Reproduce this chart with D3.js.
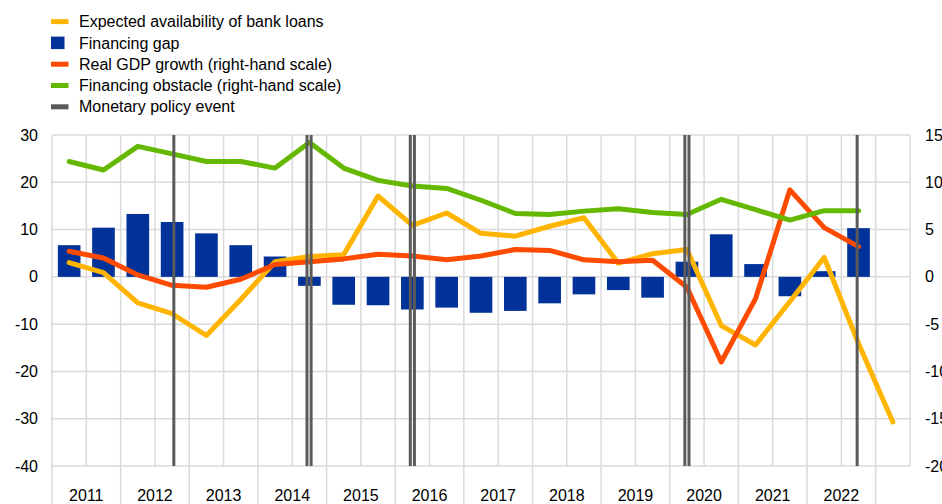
<!DOCTYPE html>
<html>
<head>
<meta charset="utf-8">
<script src="https://cdn.jsdelivr.net/npm/d3@7"></script>
<style>
  body { margin: 0; background: #fff; }
  svg { display: block; font-family: "Liberation Sans", Arial, sans-serif; }
</style>
</head>
<body>
<div id="chart"></div>
<script>
// half-year survey waves, 2011H1 .. 2023H1
var periods = ["2011H1","2011H2","2012H1","2012H2","2013H1","2013H2","2014H1","2014H2",
  "2015H1","2015H2","2016H1","2016H2","2017H1","2017H2","2018H1","2018H2",
  "2019H1","2019H2","2020H1","2020H2","2021H1","2021H2","2022H1","2022H2","2023H1"];
var years = ["2011","2012","2013","2014","2015","2016","2017","2018","2019","2020","2021","2022"];

var financingGap = [6.7, 10.4, 13.3, 11.6, 9.2, 6.7, 4.3, -1.9, -5.9, -6.0, -6.9, -6.5, -7.6,
  -7.2, -5.6, -3.7, -2.8, -4.4, 3.2, 9.0, 2.7, -4.1, 1.2, 10.3, null];
var bankLoans = [3.0, 0.9, -5.5, -7.8, -12.4, -4.8, 3.2, 4.3, 4.7, 17.1, 10.9, 13.5, 9.2,
  8.6, 10.7, 12.5, 2.9, 4.9, 5.8, -10.3, -14.4, -5.2, 4.1, -14.1, -30.7];
var gdpGrowth = [2.7, 2.0, 0.2, -0.9, -1.1, -0.25, 1.3, 1.6, 1.9, 2.4, 2.2, 1.8, 2.2,
  2.9, 2.8, 1.8, 1.6, 1.75, -1.1, -9.0, -2.3, 9.2, 5.2, 3.2, null];
var financingObstacle = [12.2, 11.3, 13.8, 13.0, 12.2, 12.2, 11.5, 14.2, 11.5, 10.2, 9.6, 9.35, 8.1,
  6.7, 6.6, 6.95, 7.2, 6.8, 6.6, 8.2, 7.1, 6.0, 7.0, 7.0, null];
// monetary policy events, in period-index units
var policyEvents = [3.05, 6.93, 7.05, 9.94, 10.06, 17.94, 18.06, 22.96];

var leftTicks = [30, 20, 10, 0, -10, -20, -30, -40];
var rightTicks = [15, 10, 5, 0, -5, -10, -15, -20];

var legendItems = [
  {label: "Expected availability of bank loans", color: "#ffb400", type: "line"},
  {label: "Financing gap", color: "#003299", type: "bar"},
  {label: "Real GDP growth (right-hand scale)", color: "#ff4b00", type: "line"},
  {label: "Financing obstacle (right-hand scale)", color: "#65b800", type: "line"},
  {label: "Monetary policy event", color: "#5a5a5a", type: "line"}
];

var W = 942, H = 504;
var margin = {top: 135, left: 52, right: 32, bottom: 38};
var x0 = margin.left, x1 = W - margin.right, yTop = margin.top, yBot = H - margin.bottom;
var grid = "#dadada";

var svg = d3.select("#chart").append("svg").attr("width", W).attr("height", H);

var x = d3.scaleLinear().domain([-0.5, periods.length - 0.5]).range([x0, x1]);
var step = x(1) - x(0);
var yL = d3.scaleLinear().domain([-40, 30]).range([yBot, yTop]);
var yR = d3.scaleLinear().domain([-20, 15]).range([yBot, yTop]);

// gridlines
svg.append("g").selectAll("line").data(leftTicks).enter().append("line")
  .attr("x1", x0).attr("x2", x1)
  .attr("y1", d => yL(d)).attr("y2", d => yL(d))
  .attr("stroke", grid).attr("stroke-width", 1.5);

svg.append("g").selectAll("line").data(d3.range(periods.length + 1)).enter().append("line")
  .attr("x1", d => x(d - 0.5)).attr("x2", d => x(d - 0.5))
  .attr("y1", yTop)
  .attr("y2", d => (d % 2 === 0) ? H : yBot)
  .attr("stroke", grid).attr("stroke-width", 1.5);

// bars
svg.append("g").selectAll("rect")
  .data(financingGap.map((v, i) => ({i: i, v: v})).filter(d => d.v !== null))
  .enter().append("rect")
  .attr("x", d => x(d.i) - step * 0.33)
  .attr("width", step * 0.66)
  .attr("y", d => yL(Math.max(0, d.v)))
  .attr("height", d => Math.abs(yL(d.v) - yL(0)))
  .attr("fill", "#003299");

function drawLine(values, scale, color) {
  var line = d3.line()
    .defined(d => d !== null)
    .x((d, i) => x(i))
    .y(d => scale(d));
  svg.append("path").datum(values)
    .attr("d", line)
    .attr("fill", "none")
    .attr("stroke", color)
    .attr("stroke-width", 5)
    .attr("stroke-linejoin", "round")
    .attr("stroke-linecap", "round");
}

drawLine(bankLoans, yL, "#ffb400");
drawLine(gdpGrowth, yR, "#ff4b00");
drawLine(financingObstacle, yR, "#65b800");

// policy events
svg.append("g").selectAll("line").data(policyEvents).enter().append("line")
  .attr("x1", d => x(d)).attr("x2", d => x(d))
  .attr("y1", yTop).attr("y2", yBot)
  .attr("stroke", "#5a5a5a").attr("stroke-width", 3);

// axes (plain hyphen for negatives, like the original)
var fmt = d => String(d);
var leftAxis = svg.append("g").attr("transform", "translate(" + x0 + ",0)")
  .call(d3.axisLeft(yL).tickValues(leftTicks).tickFormat(fmt).tickSize(0).tickPadding(14));
var rightAxis = svg.append("g").attr("transform", "translate(" + x1 + ",0)")
  .call(d3.axisRight(yR).tickValues(rightTicks).tickFormat(fmt).tickSize(0).tickPadding(15));

var xYears = d3.scaleBand().domain(years).range([x(-0.5), x(years.length * 2 - 0.5)]);
var bottomAxis = svg.append("g").attr("transform", "translate(0," + yBot + ")")
  .call(d3.axisBottom(xYears).tickSize(0).tickPadding(24));

[leftAxis, rightAxis, bottomAxis].forEach(function(a) {
  a.select(".domain").remove();
  a.selectAll("text").style("font-size", "16px").attr("fill", "#000")
    .style("font-family", "'Liberation Sans', Arial, sans-serif");
});

// legend
var legend = svg.append("g");
legendItems.forEach(function(d, k) {
  var cy = 21.6 + k * 21.3;
  if (d.type === "bar") {
    legend.append("rect").attr("x", 51).attr("y", cy - 6.3).attr("width", 13.5).attr("height", 12.5)
      .attr("fill", d.color);
  } else {
    legend.append("rect").attr("x", 51).attr("y", cy - 2.5).attr("width", 17.5).attr("height", 5)
      .attr("fill", d.color);
  }
  legend.append("text").attr("x", 79).attr("y", cy).attr("dy", "0.35em")
    .style("font-size", "16px").attr("fill", "#000").text(d.label);
});
</script>
</body>
</html>
